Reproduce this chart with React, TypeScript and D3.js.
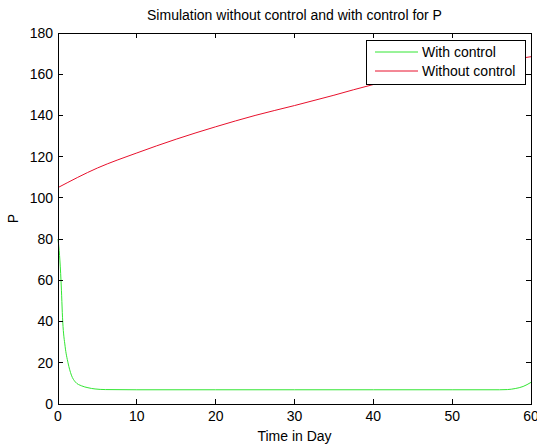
import React from "react";
import * as d3 from "d3";

const title = "Simulation without control and with control for P";
const xLabel = "Time in Day";
const yLabel = "P";
const xTicks = [0, 10, 20, 30, 40, 50, 60];
const yTicks = [0, 20, 40, 60, 80, 100, 120, 140, 160, 180];
const seriesNames = ["With control", "Without control"];

const withTimes = [0, 0.2, 0.38, 0.6, 0.9, 1.27, 1.7, 2.2, 3.0, 3.8, 4.7, 6, 10, 20, 30, 40, 50, 56, 57, 58, 59, 60];
const withValues = [80, 72, 60, 40, 28, 20, 14, 10.7, 8.8, 7.9, 7.3, 7.0, 6.9, 6.9, 6.9, 6.9, 6.9, 6.9, 7.0, 7.5, 8.5, 10.5];

const withoutTimes = [0, 5, 10, 15, 20, 25, 30, 35, 40, 45, 50, 55, 60];
const withoutValues = [105, 114.5, 121.8, 128.5, 134.5, 140, 144.8, 149.8, 155, 158.8, 162.3, 165.5, 168.5];

const W = 537, H = 446;
const L = 58, R = 531, T = 33, B = 404;
const FONT = "Liberation Sans, Arial, sans-serif";
const FS = 14;
const GREEN = "#33e633";
const RED = "#e8102c";

export default function App() {
  const x = d3.scaleLinear().domain([0, 60]).range([L, R]);
  const y = d3.scaleLinear().domain([0, 180]).range([B, T]);
  const line = d3.line<[number, number]>().x(d => x(d[0])).y(d => y(d[1])).curve(d3.curveMonotoneX);
  const withPts: [number, number][] = withTimes.map((t, i) => [t, withValues[i]]);
  const withoutPts: [number, number][] = withoutTimes.map((t, i) => [t, withoutValues[i]]);
  const tl = 5;
  const lg = { x: 366, y: 40, w: 159, h: 44 };
  return (
    <svg width={W} height={H} style={{ position: "absolute", left: 0, top: 0, background: "#fff" }} fontFamily={FONT}>
      <rect x={0} y={0} width={W} height={H} fill="#fff" />
      <text x={(L + R) / 2} y={20} textAnchor="middle" fontSize={FS} fill="#000">{title}</text>
      <path d={line(withoutPts) || ""} fill="none" stroke={RED} strokeWidth={1} />
      <path d={line(withPts) || ""} fill="none" stroke={GREEN} strokeWidth={1} />
      <rect x={L} y={T} width={R - L} height={B - T} fill="none" stroke="#000" strokeWidth={1} shapeRendering="crispEdges" />
      {xTicks.map(t => (
        <g key={"x" + t}>
          <line x1={x(t)} x2={x(t)} y1={B} y2={B - tl} stroke="#000" shapeRendering="crispEdges" />
          <line x1={x(t)} x2={x(t)} y1={T} y2={T + tl} stroke="#000" shapeRendering="crispEdges" />
          <text x={x(t)} y={421} textAnchor="middle" fontSize={FS} fill="#000">{t}</text>
        </g>
      ))}
      {yTicks.map(t => (
        <g key={"y" + t}>
          <line x1={L} x2={L + tl} y1={y(t)} y2={y(t)} stroke="#000" shapeRendering="crispEdges" />
          <line x1={R} x2={R - tl} y1={y(t)} y2={y(t)} stroke="#000" shapeRendering="crispEdges" />
          <text x={L - 5} y={y(t)} dy="0.35em" textAnchor="end" fontSize={FS} fill="#000">{t}</text>
        </g>
      ))}
      <text x={(L + R) / 2} y={441} textAnchor="middle" fontSize={FS} fill="#000">{xLabel}</text>
      <text transform={`translate(18,${(T + B) / 2}) rotate(-90)`} textAnchor="middle" fontSize={FS} fill="#000">{yLabel}</text>
      <g>
        <rect x={lg.x} y={lg.y} width={lg.w} height={lg.h} fill="#fff" stroke="#000" shapeRendering="crispEdges" />
        {seriesNames.map((n, i) => (
          <g key={n}>
            <line x1={375} x2={418} y1={lg.y + 12 + i * 19} y2={lg.y + 12 + i * 19} stroke={i === 0 ? GREEN : RED} />
            <text x={422} y={lg.y + 12 + i * 19} dy="0.35em" fontSize={FS} fill="#000">{n}</text>
          </g>
        ))}
      </g>
    </svg>
  );
}
